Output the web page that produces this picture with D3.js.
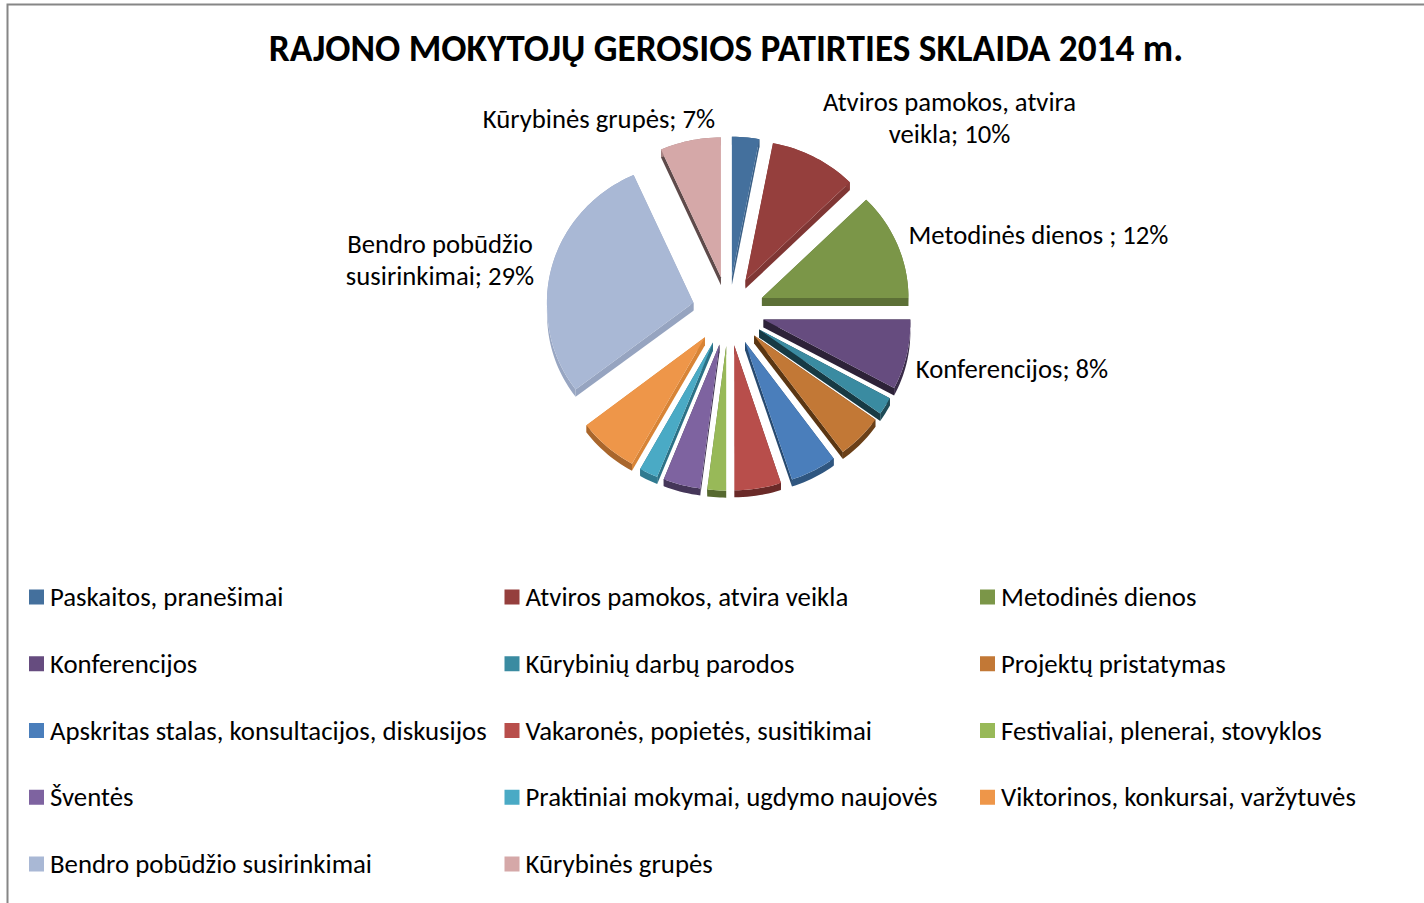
<!DOCTYPE html>
<html><head><meta charset="utf-8">
<script src="https://cdn.jsdelivr.net/npm/d3@7"></script>
<style>html,body{margin:0;padding:0;background:#fff}svg{display:block}text{font-family:Carlito,Lato,sans-serif;fill:#000}</style>
</head><body>
<svg id="c" width="1424" height="903"></svg>
<script>
const title = "RAJONO MOKYTOJŲ GEROSIOS PATIRTIES SKLAIDA 2014 m.";
const categories = ["Paskaitos, pranešimai","Atviros pamokos, atvira veikla","Metodinės dienos","Konferencijos","Kūrybinių darbų parodos","Projektų pristatymas","Apskritas stalas, konsultacijos, diskusijos","Vakaronės, popietės, susitikimai","Festivaliai, plenerai, stovyklos","Šventės","Praktiniai mokymai, ugdymo naujovės","Viktorinos, konkursai, varžytuvės","Bendro pobūdžio susirinkimai","Kūrybinės grupės"];
const values = [3,9.6,12.4,8,2,5,5,5,2,4,2,6.5,28.8,6.7];
const colors = ["#44709d","#953f3d","#7b9648","#664c7f","#3a8ba1","#c27836","#4a7ebb","#b84e4b","#98b958","#7e63a0","#4aaac5","#ee9649","#a9b8d5","#d5a8a8"];
const edgeColors = ["#3a5f85","#7f3634","#5c7036","#2d2238","#173a44","#5a3613","#274a70","#6e2e2c","#5a6e34","#3f3250","#2c7186","#d88436","#96a4c0","#5e4a4a"];
const rimColors = ["#3a5f85","#8a3a38","#64793a","#3a2c49","#1f4b57","#6b4018","#2f5680","#6a2a28","#56692f","#453659","#2f7a90","#a9662c","#98a6c2","#a88484"];
const labelLines = [["Kūrybinės grupės; 7%"],["Atviros pamokos, atvira","veikla; 10%"],["Metodinės dienos ; 12%"],["Konferencijos; 8%"],["Bendro pobūdžio","susirinkimai; 29%"]];
const labelAnchors = [[599,128],[949.5,111],[1038.5,244],[1012,378],[440,253]];

const svg = d3.select("#c");
// frame
svg.append("path").attr("d","M7.5,903V4.5H1424").attr("fill","none").attr("stroke","#868686").attr("stroke-width",2);
svg.append("text").attr("x",726).attr("y",61).attr("text-anchor","middle").attr("font-size",37.3).attr("font-weight",700).text(title);

// pie geometry
const cx=728.5, cy=311, R=148, EXP=36.5, SX=0.99, SY=0.945, DEPTH=8, PERSP=0.025;
const pie=d3.pie().sort(null).value(d=>d);
const arcs=pie(values);
const line=d3.line();
function project(u,v){
  const s=1+PERSP*Math.max(0,v)/150;
  return [cx+u*SX*s, cy+v*SY*s];
}
function pt(a,r,mid){ // a clockwise from north
  const u=EXP*Math.sin(mid)+r*Math.sin(a), v=-EXP*Math.cos(mid)-r*Math.cos(a);
  return project(u,v);
}
const depthAt=a=>DEPTH-Math.max(0,-Math.cos(a));
const g=svg.append("g");
arcs.forEach((d,i)=>{
  const mid=(d.startAngle+d.endAngle)/2;
  const n=Math.max(6,Math.ceil((d.endAngle-d.startAngle)/0.03));
  const angles=d3.range(n+1).map(k=>d.startAngle+(d.endAngle-d.startAngle)*k/n);
  const rimPts=angles.map(a=>pt(a,R,mid));
  const rimLow=angles.map((a,k)=>[rimPts[k][0],rimPts[k][1]+depthAt(a)]);
  const tip=pt(0,0,mid);
  const tipLow=[tip[0],tip[1]+DEPTH];
  const gs=g.append("g");
  gs.append("path").attr("d",line([tip,rimPts[0],rimLow[0],tipLow])+"Z").attr("fill",edgeColors[i]);
  gs.append("path").attr("d",line([tip,rimPts[n],rimLow[n],tipLow])+"Z").attr("fill",edgeColors[i]);
  gs.append("path").attr("d",line(rimPts.concat(rimLow.slice().reverse()))+"Z").attr("fill",rimColors[i]);
  gs.append("path").attr("d",line([tip].concat(rimPts))+"Z").attr("fill",colors[i]);
});

// data labels
labelLines.forEach((ls,i)=>{
  ls.forEach((t,j)=>{
    svg.append("text").attr("x",labelAnchors[i][0]).attr("y",labelAnchors[i][1]+j*32).attr("text-anchor","middle").attr("font-size",26.7).text(t);
  });
});

// legend
const colX=d3.scalePoint().domain([0,1,2]).range([29,980]);
const rowY=d3.scaleLinear().domain([0,4]).range([597,864]);
categories.forEach((c,i)=>{
  const col=i%3,row=Math.floor(i/3);
  const x=colX(col),y=rowY(row);
  svg.append("rect").attr("x",x).attr("y",y-7.5).attr("width",15).attr("height",15).attr("fill",colors[i]);
  svg.append("text").attr("x",x+21).attr("y",y+9).attr("font-size",26.8).text(c);
});
</script>
</body></html>
